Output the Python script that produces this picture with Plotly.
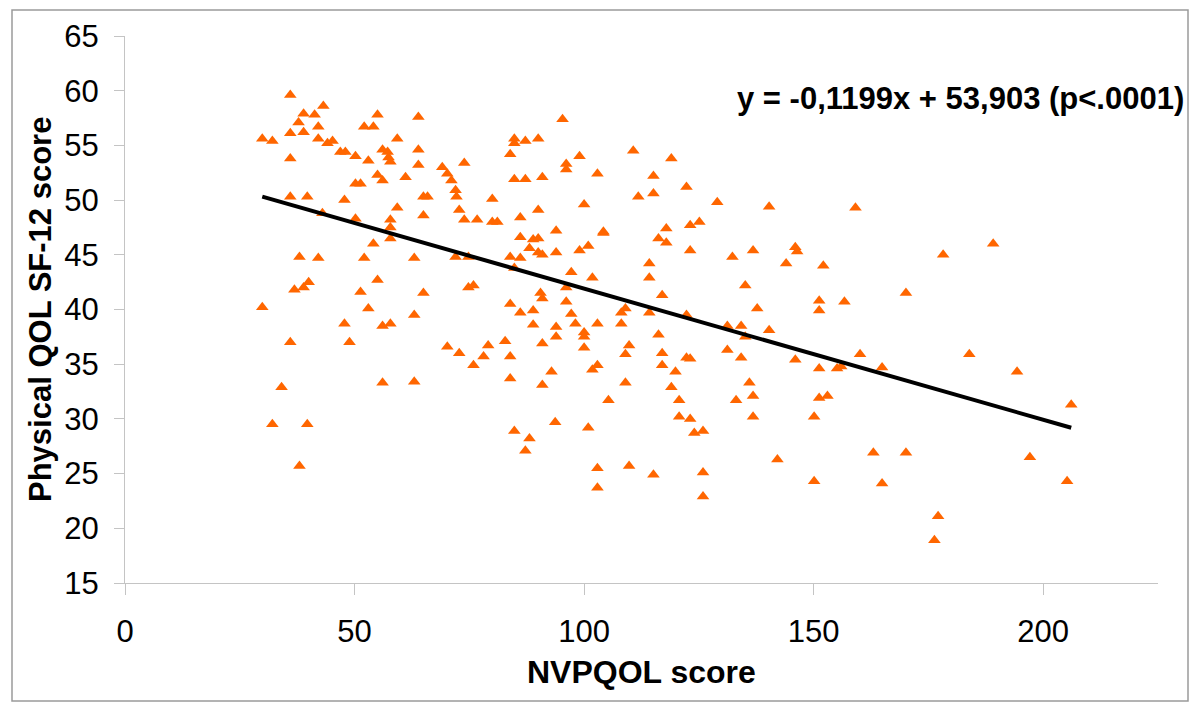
import plotly.graph_objects as go

# ---- data ----
nvpqol = [
    36.0, 38.9, 41.3, 43.2, 37.8, 42.1, 38.9, 36.0, 29.9, 32.1, 42.1, 44.1, 45.2, 46.9, 48.0, 50.2,
    53.0, 55.0, 52.1, 54.1, 59.3, 63.9, 56.1, 57.2, 57.4, 57.8, 63.9, 63.9, 36.0, 55.0, 56.1, 50.2,
    51.3, 61.1, 69.1, 70.2, 71.1, 73.9, 72.0, 72.2, 36.0, 39.7, 47.8, 65.0, 65.9, 59.3, 65.0, 43.0,
    50.2, 57.8, 57.8, 57.8, 72.8, 73.9, 76.7, 54.1, 38.0, 42.1, 52.1, 63.0, 72.0, 74.8, 55.0, 36.9,
    38.9, 40.0, 51.3, 65.0, 74.8, 75.9, 29.9, 53.0, 63.0, 47.8, 56.1, 57.8, 36.0, 48.9, 70.2, 72.8,
    75.9, 34.1, 56.1, 63.0, 32.1, 39.7, 38.0,
    95.3, 84.8, 84.8, 87.2, 90.0, 83.9, 99.0, 96.1, 96.1, 102.9, 84.8, 87.2, 90.9, 110.7, 119.0, 115.1,
    122.3, 111.8, 115.1, 80.0, 100.0, 90.0, 86.1, 80.0, 81.1, 93.9, 104.2, 104.2, 86.1, 88.9, 90.0, 117.9,
    123.1, 125.1, 116.2, 117.9, 123.1, 88.1, 90.0, 90.9, 93.9, 99.0, 100.9, 83.9, 86.1, 84.8, 114.2, 97.2,
    114.2, 101.8, 96.1, 90.5, 90.9, 117.0, 96.1, 83.9, 86.1, 88.9, 97.2, 109.0, 108.1, 114.2, 122.3, 88.9,
    93.9, 98.1, 102.9, 108.1,
    93.9, 100.0, 100.0, 100.0, 116.2, 79.1, 82.8, 78.1, 83.9, 90.9, 109.8, 109.0, 117.0, 117.0, 122.3, 123.1,
    102.9, 101.8, 92.9, 83.9, 90.9, 109.0, 119.9, 119.0, 105.3, 120.7, 120.7, 123.1, 124.0, 125.9, 84.8, 88.1,
    87.2, 93.7, 100.9, 102.9, 102.9, 109.8, 115.1, 125.9, 125.9,
    129.0, 140.3, 159.1, 132.3, 136.8, 146.0, 146.4, 144.0, 152.1, 135.1, 170.1, 151.2, 151.2, 156.7, 137.7, 131.2,
    134.2, 140.3, 135.1, 131.2, 134.2, 146.0, 151.2, 155.1, 156.0, 160.1, 164.9, 136.0, 133.1, 136.8, 136.8, 151.2,
    153.0, 150.1, 142.1, 150.1, 163.0, 170.1, 164.9, 177.1, 176.3,
    178.2, 189.1, 183.9, 194.3, 206.1, 197.1, 205.2,
]
sf12 = [
    59.6, 57.9, 57.8, 58.6, 57.1, 56.7, 56.2, 56.1, 55.6, 55.4, 55.6, 55.2, 55.4, 54.4, 54.4, 54.0,
    53.6, 57.8, 56.7, 56.7, 55.6, 57.6, 54.6, 54.4, 53.9, 53.5, 54.6, 53.2, 53.8, 52.3, 51.8, 51.5,
    51.5, 52.1, 53.0, 52.4, 51.8, 53.4, 50.9, 50.3, 50.3, 50.3, 50.0, 50.3, 50.3, 49.3, 48.6, 48.8,
    48.3, 48.2, 47.5, 46.5, 49.1, 48.2, 48.2, 46.0, 44.8, 44.7, 44.7, 44.7, 44.8, 44.8, 42.7, 41.8,
    42.0, 42.5, 41.6, 41.5, 42.0, 42.2, 40.2, 40.1, 39.5, 38.7, 38.5, 38.7, 37.0, 37.0, 36.6, 36.0,
    34.9, 32.9, 33.3, 33.4, 29.5, 29.5, 25.7,
    57.4, 55.6, 55.2, 55.4, 55.6, 54.2, 54.0, 53.3, 52.8, 52.4, 51.9, 51.9, 52.1, 54.5, 53.8, 52.2,
    51.2, 50.3, 50.6, 50.1, 49.6, 49.1, 48.4, 48.0, 48.0, 47.2, 47.1, 47.0, 46.6, 46.4, 46.5, 47.4,
    47.7, 48.0, 46.5, 46.1, 45.4, 45.6, 45.2, 45.0, 45.2, 45.4, 45.8, 44.8, 44.7, 43.8, 44.2, 43.4,
    42.9, 42.9, 42.0, 41.5, 41.0, 41.3, 40.7, 40.5, 39.7, 39.9, 39.6, 40.1, 39.7, 39.7, 39.5, 38.6,
    38.4, 38.7, 38.7, 38.7,
    37.5, 37.9, 37.5, 36.5, 37.7, 36.7, 37.1, 35.7, 35.7, 36.9, 36.7, 35.9, 36.0, 34.9, 35.6, 35.5,
    34.9, 34.5, 34.3, 33.7, 33.1, 33.3, 34.3, 32.9, 31.7, 31.7, 30.2, 30.0, 28.7, 28.9, 28.9, 28.2,
    27.1, 29.7, 29.2, 25.5, 23.7, 25.7, 24.9, 25.1, 22.9,
    49.8, 49.4, 49.3, 44.8, 45.4, 45.7, 45.3, 44.2, 44.0, 42.2, 41.5, 40.8, 39.9, 40.7, 40.1, 38.5,
    38.5, 38.1, 37.5, 36.3, 35.6, 35.4, 34.6, 34.6, 34.8, 35.9, 34.7, 33.3, 31.7, 32.1, 30.2, 31.9,
    32.1, 30.2, 26.3, 24.3, 26.9, 26.9, 24.1, 21.1, 18.9,
    45.0, 46.0, 35.9, 34.3, 31.3, 26.5, 24.3,
]

slope = -0.1199
intercept = 53.903
equation_text = "y = -0,1199x + 53,903 (p<.0001)"
x_title = "NVPQOL score"
y_title = "Physical QOL SF-12 score"
x_ticks = [0, 50, 100, 150, 200]
y_ticks = [15, 20, 25, 30, 35, 40, 45, 50, 55, 60, 65]

# ---- layout geometry (pixels) ----
WIDTH, HEIGHT = 1200, 712
L, R, T, B = 125, 42, 36, 129
PW = WIDTH - L - R
PH = HEIGHT - T - B


def px_x(p):
    return (p - L) / PW


def px_y(p):
    return (HEIGHT - B - p) / PH


xmin, xmax = min(nvpqol), max(nvpqol)
fit_x = [xmin, xmax]
fit_y = [intercept + slope * v for v in fit_x]

fig = go.Figure()
fig.add_trace(go.Scatter(
    x=nvpqol, y=sf12, mode="markers",
    marker=dict(symbol="triangle-up", size=11, color="#FF6600", line=dict(width=0)),
    showlegend=False, hoverinfo="x+y",
))
fig.add_trace(go.Scatter(
    x=fit_x, y=fit_y, mode="lines",
    line=dict(color="black", width=4),
    showlegend=False, hoverinfo="skip",
))

axis_color = "#c4c4c4"
font_family = "Liberation Sans, Arial, sans-serif"

fig.update_layout(
    width=WIDTH, height=HEIGHT,
    margin=dict(l=L, r=R, t=T, b=B),
    paper_bgcolor="white", plot_bgcolor="white",
    font=dict(family=font_family, color="black"),
    xaxis=dict(
        range=[0, 225], tickvals=x_ticks, ticktext=[str(v) for v in x_ticks],
        showgrid=False, zeroline=False, showline=True, linecolor=axis_color, linewidth=1,
        ticks="outside", ticklen=11, tickcolor=axis_color, tickwidth=1,
        tickfont=dict(size=31, family=font_family, color="black"),
        ticklabelstandoff=10,
    ),
    yaxis=dict(
        range=[15, 65], tickvals=y_ticks, ticktext=[str(v) for v in y_ticks],
        showgrid=False, zeroline=False, showline=True, linecolor=axis_color, linewidth=1,
        ticks="outside", ticklen=10, tickcolor=axis_color, tickwidth=1,
        tickfont=dict(size=31, family=font_family, color="black"),
        ticklabelstandoff=9,
    ),
    shapes=[dict(
        type="rect", xref="paper", yref="paper",
        x0=px_x(12), x1=px_x(1188), y0=px_y(701), y1=px_y(10),
        line=dict(color="#9a9a9a", width=1.5), fillcolor="rgba(0,0,0,0)", layer="below",
    )],
    annotations=[
        dict(text="<b>" + equation_text + "</b>", xref="paper", yref="paper",
             x=px_x(1186), y=px_y(98), xanchor="right", yanchor="middle", showarrow=False,
             font=dict(size=31, family=font_family, color="black")),
        dict(text="<b>" + x_title + "</b>", xref="paper", yref="paper",
             x=px_x(641), y=px_y(672), xanchor="center", yanchor="middle", showarrow=False,
             font=dict(size=32, family=font_family, color="black")),
        dict(text="<b>" + y_title + "</b>", xref="paper", yref="paper",
             x=px_x(40), y=px_y(310), xanchor="center", yanchor="middle", showarrow=False,
             textangle=-90, font=dict(size=31, family=font_family, color="black")),
    ],
)

fig.write_html("out.html", config={"displayModeBar": False},
               post_script="document.body.style.margin='0';")
